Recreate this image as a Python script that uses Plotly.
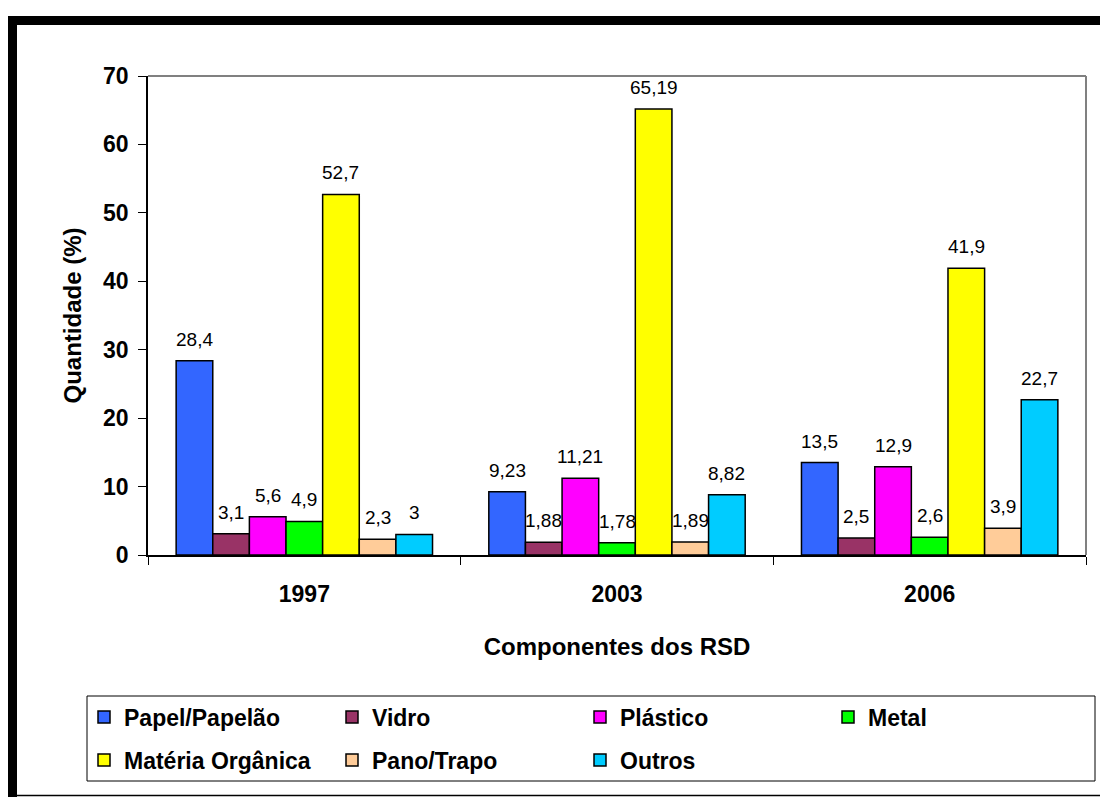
import plotly.graph_objects as go

years = ["1997", "2003", "2006"]
series_names = ["Papel/Papelão", "Vidro", "Plástico", "Metal", "Matéria Orgânica", "Pano/Trapo", "Outros"]
papel = [28.4, 9.23, 13.5]
vidro = [3.1, 1.88, 2.5]
plastico = [5.6, 11.21, 12.9]
metal = [4.9, 1.78, 2.6]
materia = [52.7, 65.19, 41.9]
pano = [2.3, 1.89, 3.9]
outros = [3.0, 8.82, 22.7]
y_ticks = [0, 10, 20, 30, 40, 50, 60, 70]

series_values = [papel, vidro, plastico, metal, materia, pano, outros]
colors = ["#3366FF", "#993366", "#FF00FF", "#00FF00", "#FFFF00", "#FFCC99", "#00CCFF"]

FONT = "Arial, 'Liberation Sans', sans-serif"
OFF = 8  # page body margin
SW, SH = 1108, 797  # screen size
# plot area in screen pixels
PL, PR, PT, PB = 148, 1086, 76, 555
W, H = SW - OFF, SH - OFF
ML, MR, MT, MB = PL - OFF, SW - PR, PT - OFF, SH - PB
PW, PH = PR - PL, PB - PT
BARGAP = 0.18


def px_x(px):
    return (px - PL) / PW


def px_y(py):
    return (PB - py) / PH


def fmt(v):
    return f"{v:g}".replace(".", ",")


fig = go.Figure()
for i, (name, vals, col) in enumerate(zip(series_names, series_values, colors)):
    fig.add_trace(go.Bar(
        x=years, y=vals, name=name,
        marker=dict(color=col, line=dict(color="black", width=1.5)),
        legend="legend" if i < 4 else "legend2",
        hoverinfo="skip",
    ))

n = len(series_names)
bw = (1 - BARGAP) / n
annotations = []
for i, vals in enumerate(series_values):
    for j, v in enumerate(vals):
        annotations.append(dict(
            x=j + (i - (n - 1) / 2) * bw, y=v, xref="x", yref="y",
            text=fmt(v), showarrow=False, yanchor="bottom", yshift=9,
            font=dict(family=FONT, size=19, color="black"),
        ))

shapes = [
    dict(type="line", xref="paper", yref="paper", x0=0, x1=1, y0=1, y1=1,
         line=dict(color="#808080", width=2)),
    dict(type="line", xref="paper", yref="paper", x0=1, x1=1, y0=0, y1=1,
         line=dict(color="#808080", width=2)),
    dict(type="rect", xref="paper", yref="paper", x0=px_x(8), x1=px_x(1110), y0=px_y(16), y1=px_y(25),
         fillcolor="black", line=dict(width=0), layer="above"),
    dict(type="rect", xref="paper", yref="paper", x0=px_x(8), x1=px_x(17), y0=px_y(16), y1=px_y(799),
         fillcolor="black", line=dict(width=0), layer="above"),
    dict(type="line", xref="paper", yref="paper", x0=px_x(8), x1=px_x(1110), y0=px_y(795.5), y1=px_y(795.5),
         line=dict(color="black", width=1.5)),
    dict(type="rect", xref="paper", yref="paper", x0=px_x(87), x1=px_x(1095), y0=px_y(696), y1=px_y(781),
         line=dict(color="black", width=1), fillcolor="rgba(0,0,0,0)"),
]

legend_common = dict(
    orientation="h", xanchor="left", yanchor="middle",
    font=dict(family=FONT, size=23, color="black", weight="bold"),
    entrywidth=203, entrywidthmode="pixels",
    bgcolor="rgba(0,0,0,0)", borderwidth=0, itemclick=False, itemdoubleclick=False,
    tracegroupgap=0,
)

fig.update_layout(
    width=W, height=H,
    margin=dict(l=ML, r=MR, t=MT, b=MB),
    paper_bgcolor="white", plot_bgcolor="white",
    barmode="group", bargap=BARGAP, bargroupgap=0,
    font=dict(family=FONT, color="black"),
    showlegend=True,
    legend=dict(x=px_x(84), y=px_y(717), **legend_common),
    legend2=dict(x=px_x(84), y=px_y(760), **legend_common),
    xaxis=dict(
        type="category", showgrid=False, showline=True, linecolor="black", linewidth=1.5,
        ticks="outside", tickson="boundaries", ticklen=8, tickcolor="black",
        ticklabelstandoff=18,
        tickfont=dict(family=FONT, size=23, color="black", weight="bold"),
        title=dict(text="<b>Componentes dos RSD</b>", font=dict(family=FONT, size=24, color="black"), standoff=32),
    ),
    yaxis=dict(
        range=[0, 70], tickvals=y_ticks, showgrid=False, zeroline=False,
        showline=True, linecolor="black", linewidth=1.5,
        ticks="outside", ticklen=8, tickcolor="black",
        ticklabelstandoff=5,
        tickfont=dict(family=FONT, size=23, color="black", weight="bold"),
        title=dict(text="<b>Quantidade (%)</b>", font=dict(family=FONT, size=24, color="black"), standoff=15),
    ),
    annotations=annotations,
    shapes=shapes,
)

fig.write_html("out.html")
